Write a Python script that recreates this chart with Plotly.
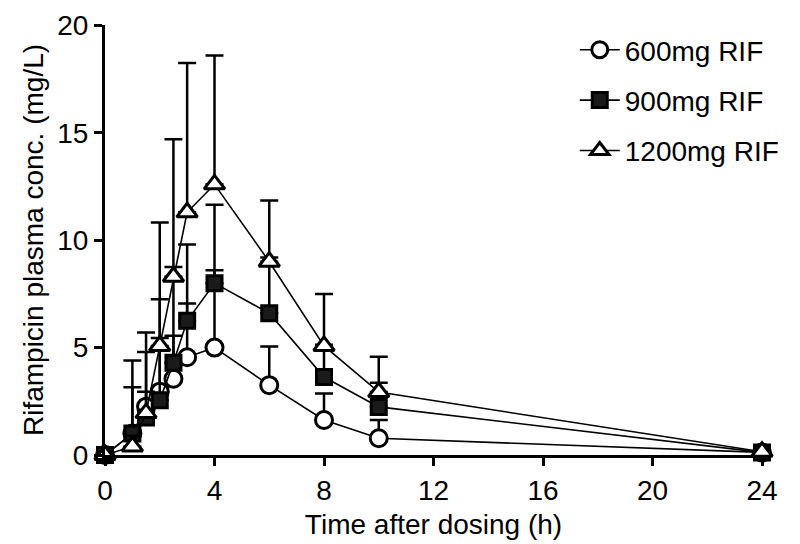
import plotly.graph_objects as go

# === Data ===
time_h = [0, 1, 1.5, 2, 2.5, 3, 4, 6, 8, 10, 24]

rif600_mean = [0.0, 1.0, 2.25, 2.95, 3.55, 4.55, 5.0, 3.25, 1.63, 0.78, 0.12]
rif600_sd = [0.0, 2.15, 3.45, 2.5, 2.0, 2.5, 3.6, 1.8, 1.23, 0.85, 0.1]

rif900_mean = [0.0, 1.0, 1.75, 2.55, 4.3, 6.25, 8.0, 6.6, 3.63, 2.24, 0.12]
rif900_sd = [0.0, 3.4, 3.05, 4.7, 4.45, 3.55, 3.65, 2.6, 1.5, 1.12, 0.1]

rif1200_mean = [0.0, 0.4, 1.95, 5.08, 8.3, 11.3, 12.6, 9.0, 5.08, 2.93, 0.15]
rif1200_sd = [0.0, 0.5, 1.0, 5.75, 6.4, 6.95, 6.0, 2.85, 2.42, 1.65, 0.1]

series = [
    ("600mg RIF", rif600_mean, rif600_sd, "circle", "white", 17),
    ("900mg RIF", rif900_mean, rif900_sd, "square", "#1a1a1a", 15),
    ("1200mg RIF", rif1200_mean, rif1200_sd, "triangle-up", "white", 18),
]

x_ticks = [0, 4, 8, 12, 16, 20, 24]
y_ticks = [0, 5, 10, 15, 20]

FONT = "Liberation Sans, Arial, sans-serif"

fig = go.Figure()

for name, mean, sd, symbol, fill, size in series:
    fig.add_trace(go.Scatter(
        x=time_h,
        y=mean,
        name=name,
        legendgroup=name,
        mode="lines+markers",
        line=dict(color="black", width=1.6),
        marker=dict(symbol=symbol, size=size, color=fill,
                    line=dict(color="black", width=3)),
        error_y=dict(type="data", symmetric=False, array=sd,
                     arrayminus=[0] * len(sd), color="black",
                     thickness=2.5, width=9),
        cliponaxis=False,
    ))

# === Layout ===
fig.update_layout(
    width=800, height=544,
    margin=dict(l=97, r=46, t=17, b=97),
    plot_bgcolor="white",
    paper_bgcolor="white",
    font=dict(family=FONT, size=28, color="black"),
    showlegend=True,
    legend=dict(
        x=0.715, y=1.0, xanchor="left", yanchor="top",
        bgcolor="rgba(0,0,0,0)",
        font=dict(size=28),
        traceorder="grouped",
        tracegroupgap=11,
        itemwidth=40,
    ),
)

fig.update_xaxes(
    range=[0, 24],
    tickvals=x_ticks,
    ticks="outside", ticklen=8, tickwidth=3, tickcolor="black",
    showline=True, linewidth=3, linecolor="black",
    showgrid=False, zeroline=False, automargin=False,
    ticklabeloverflow="allow",
    title=dict(text="Time after dosing (h)", font=dict(size=28), standoff=10),
)
fig.update_yaxes(
    range=[0, 20.02],
    tickvals=y_ticks,
    ticks="outside", ticklen=8, tickwidth=3, tickcolor="black",
    showline=True, linewidth=3, linecolor="black",
    showgrid=False, zeroline=False, automargin=False,
    ticklabeloverflow="allow",
    title=dict(text="Rifampicin plasma conc. (mg/L)", font=dict(size=28), standoff=6),
)

fig.write_html("out.html")
